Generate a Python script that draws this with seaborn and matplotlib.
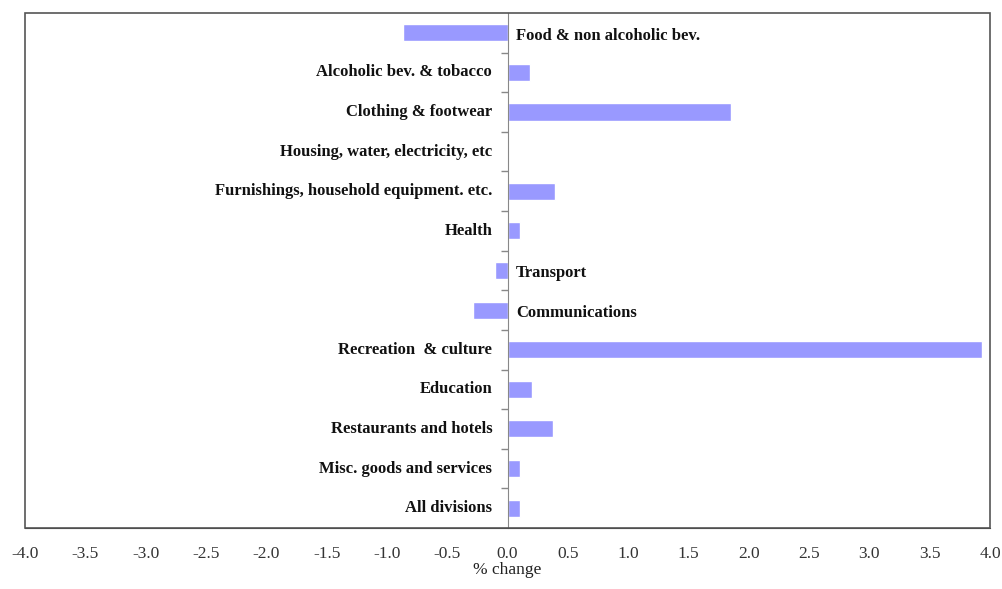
import numpy as np
import pandas as pd
import seaborn as sns
import matplotlib.pyplot as plt
from matplotlib.patches import Rectangle

categories = ["Food & non alcoholic bev.", "Alcoholic bev. & tobacco", "Clothing & footwear",
              "Housing, water, electricity, etc", "Furnishings, household equipment. etc.",
              "Health", "Transport", "Communications", "Recreation  & culture", "Education",
              "Restaurants and hotels", "Misc. goods and services", "All divisions"]
pct_change = [-0.87, 0.19, 1.85, 0.0, 0.39, 0.10, -0.10, -0.29, 3.93, 0.20, 0.38, 0.10, 0.10]
x_ticks = np.arange(-4.0, 4.01, 0.5)

df = pd.DataFrame({"category": categories, "change": pct_change})

sns.set_style("white")
plt.rcParams['font.family'] = ['Liberation Serif', 'DejaVu Serif']

fig = plt.figure(figsize=(10.02, 5.89), dpi=100)
ax = fig.add_axes([0.025, 0.1036, 0.963, 0.8744])

sns.barplot(data=df, x="change", y="category", orient="h", color="#9999ff",
            saturation=1, width=0.43, ax=ax)

ax.set_xlim(-4, 4)
ax.set_ylim(len(categories) - 0.5, -0.5)
ax.set_xticks(x_ticks)
ax.set_xticklabels([f"{t:.1f}" for t in x_ticks], fontsize=12.5, color="#333333")
ax.tick_params(axis="x", direction="out", length=5, width=1, color="#333333", pad=8)

# category axis sits at zero, with tick marks between the categories
ax.spines["left"].set_position(("data", 0))
ax.spines["left"].set_color("#888888")
ax.spines["right"].set_visible(False)
ax.spines["top"].set_visible(False)
ax.spines["bottom"].set_color("#333333")
ax.set_yticks([])
ax.set_yticks(np.arange(0.5, len(categories) - 0.5, 1), minor=True)
ax.tick_params(axis="y", which="minor", direction="out", length=5, width=1,
               color="#888888", left=True, labelleft=False)
ax.add_patch(Rectangle((0, 0), 1, 1, transform=ax.transAxes, fill=False,
                       edgecolor="#555555", linewidth=1.2, clip_on=False, zorder=5))

for i, (cat, val) in enumerate(zip(categories, pct_change)):
    if val < 0:
        ax.annotate(cat, (0, i), xytext=(6, -2), textcoords="offset points",
                    ha="left", va="center", fontsize=12, fontweight="bold", color="#111111")
    else:
        ax.annotate(cat, (0, i), xytext=(-11, 0), textcoords="offset points",
                    ha="right", va="center", fontsize=12, fontweight="bold", color="#111111")

ax.set_xlabel("% change", fontsize=12.5, labelpad=0, color="#222222")
ax.set_ylabel("")

fig.savefig("out.png", dpi=100)
